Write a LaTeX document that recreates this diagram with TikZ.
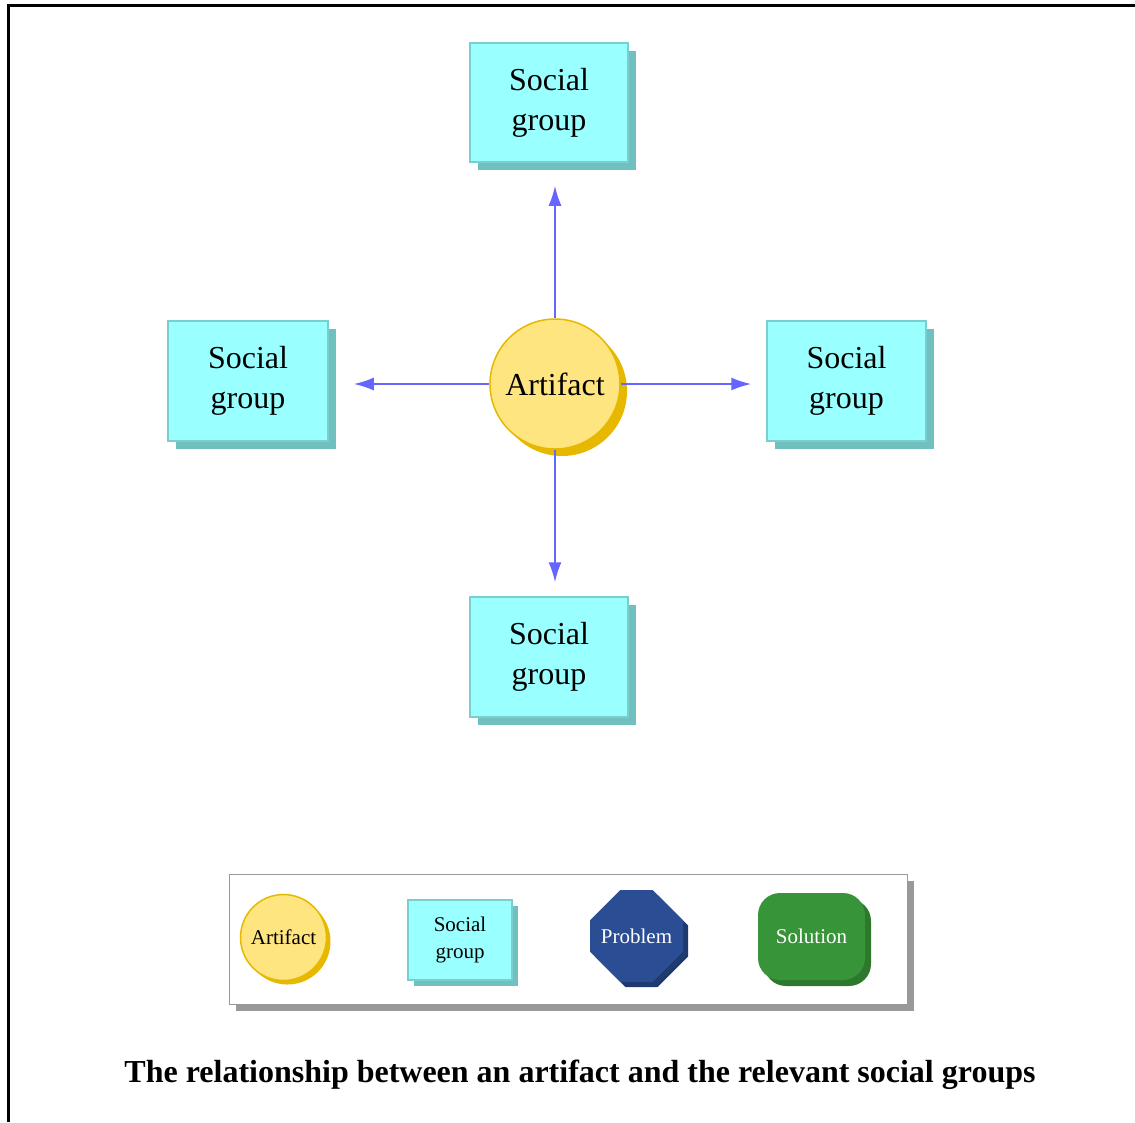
\documentclass[tikz,border=0pt]{standalone}
\usepackage{fontspec}
\setmainfont{Liberation Serif}
\usetikzlibrary{positioning, arrows.meta, shapes, shapes.misc, shadows, calc}

\definecolor{groupcyan}{RGB}{153,255,255}
\definecolor{groupedge}{RGB}{122,206,206}
\definecolor{groupshade}{RGB}{112,192,192}
\definecolor{artyellow}{RGB}{255,229,128}
\definecolor{artedge}{RGB}{230,184,0}
\definecolor{linkblue}{RGB}{102,102,255}
\definecolor{problemblue}{RGB}{43,77,148}
\definecolor{problemshade}{RGB}{31,58,110}
\definecolor{solutiongreen}{RGB}{56,148,56}
\definecolor{solutionshade}{RGB}{45,120,45}
\definecolor{framegray}{RGB}{153,153,153}

\tikzset{
  bigtext/.style={font=\fontsize{32}{40}\selectfont},
  smalltext/.style={font=\fontsize{21}{27}\selectfont},
  groupbox/.style={draw=groupedge, line width=1.5pt, fill=groupcyan, align=center, inner sep=2pt},
  groupshadow/.style={drop shadow={shadow xshift=#1, shadow yshift=-#1, fill=groupshade, opacity=1}},
  artifact/.style={circle, draw=artedge, line width=1.5pt, fill=artyellow, inner sep=1pt},
  artshadow/.style={drop shadow={shadow xshift=#1, shadow yshift=-#1, fill=artedge, opacity=1}},
  link/.style={draw=linkblue, line width=1.8pt, -{Latex[length=20pt, width=13pt]}},
}

\begin{document}
\begin{tikzpicture}[x=1pt, y=-1pt]
\useasboundingbox (0,0) rectangle (1135,1122);
\draw[line width=3pt] (8.5,1122) -- (8.5,5) -- (1135,5);

% artifact and its social groups
\node[artifact, bigtext, minimum size=130pt, artshadow=7pt] (art) at (555,384) {Artifact};
\node[groupbox, bigtext, minimum width=158pt, minimum height=119pt, groupshadow=8pt] (sgTop) at (549,102.5) {Social\\group};
\node[groupbox, bigtext, minimum width=160pt, minimum height=120pt, groupshadow=8pt] (sgLeft) at (248,381) {Social\\group};
\node[groupbox, bigtext, minimum width=159pt, minimum height=120pt, groupshadow=8pt] (sgRight) at (846.5,381) {Social\\group};
\node[groupbox, bigtext, minimum width=158pt, minimum height=120pt, groupshadow=8pt] (sgBottom) at (549,657) {Social\\group};

\draw[link, shorten >=23pt] (art.north) -- (art.north |- sgTop.south);
\draw[link, shorten >=25pt] (art.west) -- (art.west -| sgLeft.east);
\draw[link, shorten >=15pt] (art.east) -- (art.east -| sgRight.west);
\draw[link, shorten >=14pt] (art.south) -- (art.south |- sgBottom.north);

% legend
\node[draw=framegray, line width=1pt, fill=white, minimum width=678pt, minimum height=130pt,
  drop shadow={shadow xshift=7pt, shadow yshift=-7pt, fill=framegray, opacity=1}] (key) at (568,939) {};
\node[artifact, smalltext, minimum size=86pt, artshadow=4pt] (keyArt) at (283.5,937.5) {Artifact};
\node[groupbox, smalltext, minimum width=104pt, minimum height=80pt, groupshadow=6pt] (keyGroup) at (460,940) {Social\\group};
\node[chamfered rectangle, chamfered rectangle xsep=23pt, chamfered rectangle ysep=23pt, fill=problemblue,
  text=white, smalltext, minimum width=93pt, minimum height=92pt, inner sep=0pt,
  drop shadow={shadow xshift=5pt, shadow yshift=-5pt, fill=problemshade, opacity=1}] (keyProblem) at (636.5,936) {Problem};
\node[rounded corners=22pt, fill=solutiongreen, text=white, smalltext, minimum width=107pt, minimum height=87pt,
  drop shadow={shadow xshift=6pt, shadow yshift=-6pt, fill=solutionshade, opacity=1}] (keySolution) at (811.5,936.5) {Solution};

\node[font=\bfseries\fontsize{32}{38}\selectfont] (caption) at (580,1075) {The relationship between an artifact and the relevant social groups};
\end{tikzpicture}
\end{document}
